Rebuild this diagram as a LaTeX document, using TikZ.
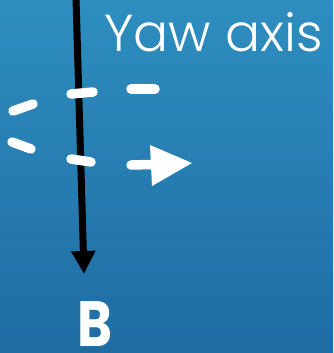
\documentclass[tikz,border=0pt]{standalone}
\usepackage{fontspec}
\setmainfont{Poppins}
\newfontfamily\lightfont{Poppins Light}
\usetikzlibrary{arrows.meta}
\definecolor{bgtop}{HTML}{2E8EBF}
\definecolor{bgbot}{HTML}{1F6CA3}
\begin{document}
\begin{tikzpicture}[x=1pt,y=-1pt,
  dashseg/.style={white,line width=9.5pt,line cap=round},
  axisline/.style={black,line width=7pt,-{Triangle[length=23pt,width=23pt]}},
  lbl/.style={white,inner sep=0pt,anchor=base west}]
\shade[top color=bgtop,bottom color=bgbot] (0,0) rectangle (333,353);
\useasboundingbox (0,0) rectangle (333,353);
\coordinate (atop) at (76,-2);
\coordinate (atip) at (84,274);
\draw[axisline] (atop) -- (atip);
\draw[dashseg] (131,89) -- (155,89);
\draw[dashseg] (71,94) -- (93,92);
\draw[dashseg] (13,111) -- (33,104);
\draw[dashseg] (12,142) -- (31,149);
\draw[dashseg] (71,159) -- (91,162);
\coordinate (rs) at (131,165);
\coordinate (rtip) at (192,163);
\draw[dashseg] (rs) -- (152,164.5);
\fill[white] (150,145) -- (rtip) -- (152,186) -- cycle;
\node[lbl,font=\fontsize{52}{52}\selectfont\lightfont] (yaw) at (104,52) {Yaw axis};
\node[lbl,font=\fontsize{64}{64}\selectfont\bfseries,xscale=0.83] (b) at (77,346) {B};
\end{tikzpicture}
\end{document}
